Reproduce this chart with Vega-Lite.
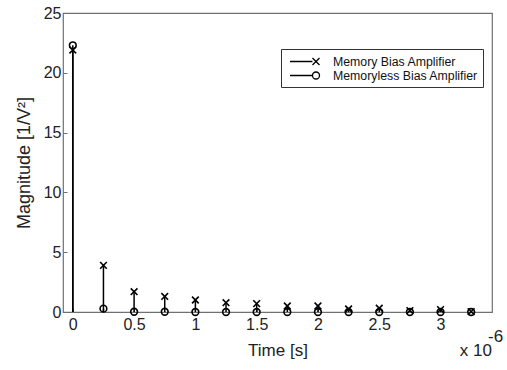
{
  "$schema": "https://vega.github.io/schema/vega-lite/v6.json",
  "width": 429,
  "height": 299,
  "autosize": "none",
  "padding": {"left": 63, "top": 13, "right": 15, "bottom": 58},
  "background": "white",
  "config": {
    "font": "Liberation Sans",
    "view": {"stroke": "#707070", "strokeWidth": 1.2},
    "axis": {
      "grid": false,
      "domain": false,
      "tickColor": "#707070",
      "tickSize": -4,
      "labelFontSize": 16,
      "labelColor": "#222",
      "titleFontSize": 17,
      "titleFontWeight": "normal",
      "titleColor": "#222"
    }
  },
  "data": {
    "values": [
      {"t": 0.0, "series": "Memory Bias Amplifier", "v": 21.9},
      {"t": 0.25, "series": "Memory Bias Amplifier", "v": 3.9},
      {"t": 0.5, "series": "Memory Bias Amplifier", "v": 1.7},
      {"t": 0.75, "series": "Memory Bias Amplifier", "v": 1.3},
      {"t": 1.0, "series": "Memory Bias Amplifier", "v": 1.0},
      {"t": 1.25, "series": "Memory Bias Amplifier", "v": 0.78},
      {"t": 1.5, "series": "Memory Bias Amplifier", "v": 0.7},
      {"t": 1.75, "series": "Memory Bias Amplifier", "v": 0.5},
      {"t": 2.0, "series": "Memory Bias Amplifier", "v": 0.5},
      {"t": 2.25, "series": "Memory Bias Amplifier", "v": 0.25},
      {"t": 2.5, "series": "Memory Bias Amplifier", "v": 0.32},
      {"t": 2.75, "series": "Memory Bias Amplifier", "v": 0.12},
      {"t": 3.0, "series": "Memory Bias Amplifier", "v": 0.2},
      {"t": 3.25, "series": "Memory Bias Amplifier", "v": 0.03},
      {"t": 0.0, "series": "Memoryless Bias Amplifier", "v": 22.3},
      {"t": 0.25, "series": "Memoryless Bias Amplifier", "v": 0.28},
      {"t": 0.5, "series": "Memoryless Bias Amplifier", "v": 0.02},
      {"t": 0.75, "series": "Memoryless Bias Amplifier", "v": 0.02},
      {"t": 1.0, "series": "Memoryless Bias Amplifier", "v": 0.0},
      {"t": 1.25, "series": "Memoryless Bias Amplifier", "v": 0.0},
      {"t": 1.5, "series": "Memoryless Bias Amplifier", "v": 0.0},
      {"t": 1.75, "series": "Memoryless Bias Amplifier", "v": 0.0},
      {"t": 2.0, "series": "Memoryless Bias Amplifier", "v": 0.0},
      {"t": 2.25, "series": "Memoryless Bias Amplifier", "v": 0.0},
      {"t": 2.5, "series": "Memoryless Bias Amplifier", "v": 0.0},
      {"t": 2.75, "series": "Memoryless Bias Amplifier", "v": 0.0},
      {"t": 3.0, "series": "Memoryless Bias Amplifier", "v": 0.0},
      {"t": 3.25, "series": "Memoryless Bias Amplifier", "v": 0.0}
    ]
  },
  "encoding": {
    "x": {
      "field": "t",
      "type": "quantitative",
      "scale": {"domain": [-0.08, 3.42], "nice": false, "zero": false},
      "axis": {"values": [0, 0.5, 1, 1.5, 2, 2.5, 3], "format": "~g", "title": "Time [s]", "labelPadding": 8, "titlePadding": 10, "labelFlush": false}
    },
    "y": {
      "field": "v",
      "type": "quantitative",
      "scale": {"domain": [0, 25], "nice": false},
      "axis": {"values": [0, 5, 10, 15, 20, 25], "title": "Magnitude [1/V²]", "titleFontSize": 18, "labelPadding": 6, "titlePadding": 10, "labelFlush": false}
    }
  },
  "resolve": {"scale": {"shape": "independent"}},
  "layer": [
    {
      "mark": {"type": "rule", "color": "black", "strokeWidth": 1.5, "clip": false},
      "encoding": {"y2": {"datum": 0}}
    },
    {
      "mark": {"type": "point", "filled": false, "color": "black", "strokeWidth": 1.6, "size": 45, "opacity": 1, "clip": false},
      "encoding": {
        "shape": {
          "field": "series",
          "type": "nominal",
          "scale": {"domain": ["Memory Bias Amplifier", "Memoryless Bias Amplifier"], "range": ["M-1,-1L1,1M-1,1L1,-1", "circle"]},
          "legend": null
        }
      }
    },
    {
      "transform": [{"filter": "datum.v < -1000"}],
      "mark": {"type": "point", "filled": false, "color": "black", "strokeWidth": 1.3, "opacity": 1},
      "encoding": {
        "shape": {
          "field": "series",
          "type": "nominal",
          "scale": {"domain": ["Memory Bias Amplifier", "Memoryless Bias Amplifier"], "range": ["M-0.54,0L2.92,0M2.92,-0.54L4.0,0.54M2.92,0.54L4.0,-0.54", "M-0.54,0L2.92,0M4.0,0A0.54,0.54 0 1,1 2.92,0A0.54,0.54 0 1,1 4.0,0"]},
          "legend": {
            "title": null,
            "orient": "none",
            "legendX": 218,
            "legendY": 36,
            "strokeColor": "#333",
            "fillColor": "white",
            "padding": 5,
            "rowPadding": 0,
            "labelFontSize": 12.3,
            "labelColor": "#111",
            "labelOffset": 32,
            "symbolSize": 169,
            "symbolStrokeColor": "black",
            "symbolStrokeWidth": 1.3,
            "symbolFillColor": "transparent",
            "symbolOpacity": 1
          }
        }
      }
    },
    {
      "data": {"values": [{"label": "x 10", "t": 3.42, "v": 0}]},
      "mark": {"type": "text", "align": "right", "baseline": "alphabetic", "dx": 0, "dy": 44, "fontSize": 17, "color": "#222", "clip": false},
      "encoding": {"text": {"field": "label"}}
    },
    {
      "data": {"values": [{"label": "-6", "t": 3.42, "v": 0}]},
      "mark": {"type": "text", "align": "left", "baseline": "alphabetic", "dx": -4, "dy": 30, "fontSize": 17, "color": "#222", "clip": false},
      "encoding": {"text": {"field": "label"}}
    }
  ]
}
